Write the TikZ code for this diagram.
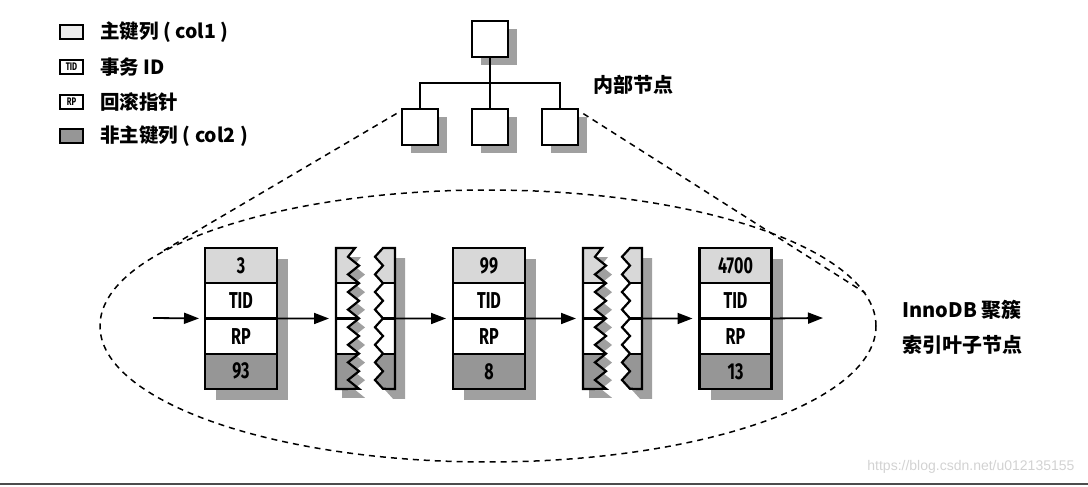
\documentclass[tikz,border=0pt]{standalone}
\usepackage{fontspec}
\setmainfont{Noto Sans CJK SC}
\newfontfamily\cond[FakeStretch=0.7]{Fira Sans}
\newfontfamily\webfont{Liberation Sans}
\usetikzlibrary{arrows.meta, positioning, shapes.geometric, shadows}
\definecolor{xKey}{RGB}{216,216,216}
\definecolor{xCol}{RGB}{150,150,150}
\definecolor{xShade}{RGB}{160,160,160}
\newcommand\tornleft{(0,0) -- (19,0) \foreach \k in {0,...,7}{ -- (12,{17.6*\k+8.8}) -- (23,{17.6*\k+17.6})} -- (0,141) -- cycle}
\newcommand\tornright{(47,0) \foreach \k in {0,...,7}{ -- (39,{17.6*\k+8.8}) -- (47,{17.6*\k+17.6})} -- (59,141) -- (59,0) -- cycle}
\tikzset{
  cell/.style={draw, line width=2.2pt, fill=white, minimum width=72pt, minimum height=35.25pt,
               inner sep=0pt, outer sep=0pt, font=\cond\bfseries\fontsize{23}{23}\selectfont,
               drop shadow={shadow xshift=11pt, shadow yshift=-11pt, fill=xShade, opacity=1}},
  keycell/.style={cell, fill=xKey},
  colcell/.style={cell, fill=xCol},
  treebox/.style={draw, line width=2.2pt, fill=white, minimum size=36pt, inner sep=0pt,
               drop shadow={shadow xshift=9pt, shadow yshift=-8pt, fill=xShade, opacity=1}},
  swatch/.style={draw, line width=1.6pt, minimum width=23pt, minimum height=14pt, inner sep=0pt,
               font=\cond\bfseries\fontsize{11}{11}\selectfont},
  legend/.style={anchor=west, font=\fontsize{19.5}{19.5}\selectfont\bfseries},
  label/.style={align=center, font=\fontsize{20}{35}\selectfont\bfseries},
  link/.style={-{Triangle[length=15pt,width=11pt]}, line width=1.8pt},
  zoomline/.style={line width=1.5pt, dash pattern=on 6pt off 5pt},
  tornpair/.pic={
    \fill[xShade, shift={(6,9)}] \tornleft;
    \fill[xShade, shift={(10,10)}] \tornright;
    \begin{scope}
      \clip \tornleft;
      \fill[white] (0,0) rectangle (30,141);
      \fill[xKey] (0,0) rectangle (30,35.25);
      \fill[xCol] (0,105.75) rectangle (30,141);
      \draw[line width=2.2pt] (0,35.25) -- (30,35.25) (0,70.5) -- (30,70.5) (0,105.75) -- (30,105.75);
    \end{scope}
    \begin{scope}
      \clip \tornright;
      \fill[white] (35,0) rectangle (65,141);
      \fill[xKey] (35,0) rectangle (65,35.25);
      \fill[xCol] (35,105.75) rectangle (65,141);
      \draw[line width=2.2pt] (35,35.25) -- (65,35.25) (35,70.5) -- (65,70.5) (35,105.75) -- (65,105.75);
    \end{scope}
    \draw[line width=2.2pt] \tornleft;
    \draw[line width=2.2pt] \tornright;
    \coordinate (-in) at (0,70.5);
    \coordinate (-out) at (59,70.5);
  },
}

\begin{document}
\begin{tikzpicture}[x=1pt, y=-1pt]
  \useasboundingbox (0,0) rectangle (1088,487);

  % legend
  \node[swatch, fill=xKey!45] (sw1) at (71.5,32) {};
  \node[swatch] (sw2) at (71.5,67) {TID};
  \node[swatch] (sw3) at (71.5,102) {RP};
  \node[swatch, fill=xCol] (sw4) at (71.5,136) {};
  \node[legend, right=13pt of sw1] {主键列 ( col1 )};
  \node[legend, right=13pt of sw2] {事务 ID};
  \node[legend, right=13pt of sw3] {回滚指针};
  \node[legend, right=13pt of sw4] {非主键列 ( col2 )};

  % leaf level outline
  \node[ellipse, draw, zoomline, minimum width=776pt, minimum height=272pt, inner sep=0pt] (leaf) at (488,326) {};

  % internal nodes
  \node[treebox] (root) at (490,39) {};
  \node[treebox] (c1) at (420,127) {};
  \node[treebox] (c2) at (490,127) {};
  \node[treebox] (c3) at (560,127) {};
  \draw[line width=1.8pt] (root.south) -- ++(0,25) -| (c1.north);
  \draw[line width=1.8pt] (root.south) -- ++(0,25) -| (c3.north);
  \draw[line width=1.8pt] (root.south) -- (c2.north);
  \node[label] (inner) at (633,85) {内部节点};
  \draw[zoomline, shorten <=5pt] (c1.140) -- (leaf.167);
  \draw[zoomline, shorten <=5pt] (c3.40) -- (leaf.5);

  % leaf records
  \node[keycell] (k1) at (241,265.6) {3};
  \node[cell, below=0pt of k1] (tid1) {TID};
  \node[cell, below=0pt of tid1] (rp1) {RP};
  \node[colcell, below=0pt of rp1] (v1) {93};

  \node[keycell] (k2) at (489,265.6) {99};
  \node[cell, below=0pt of k2] (tid2) {TID};
  \node[cell, below=0pt of tid2] (rp2) {RP};
  \node[colcell, below=0pt of rp2] (v2) {8};

  \node[keycell] (k3) at (735.5,265.6) {4700};
  \node[cell, below=0pt of k3] (tid3) {TID};
  \node[cell, below=0pt of tid3] (rp3) {RP};
  \node[colcell, below=0pt of rp3] (v3) {13};

  \pic (tornA) at (336,248) {tornpair};
  \pic (tornB) at (583,248) {tornpair};

  \coordinate (entry) at (153,318);
  \coordinate (exit) at (823,318);
  \draw[link, shorten >=6pt] (entry) -- (tid1.south west);
  \draw[link, shorten >=7pt] (tid1.south east) -- (tornA-in);
  \draw[link, shorten >=7pt] (tornA-out) -- (tid2.south west);
  \draw[link, shorten >=7pt] (tid2.south east) -- (tornB-in);
  \draw[link, shorten >=7pt] (tornB-out) -- (tid3.south west);
  \draw[link] (tid3.south east) -- (exit);

  \node[label] (leafname) at (962,327) {InnoDB 聚簇\\索引叶子节点};

  \node[anchor=east, text=gray!35, font=\webfont\fontsize{14}{14}\selectfont] (mark) at (1078,467) {https://blog.csdn.net/u012135155};
  \draw[line width=2pt, black!70] (0,484) -- (1088,484);
\end{tikzpicture}
\end{document}
